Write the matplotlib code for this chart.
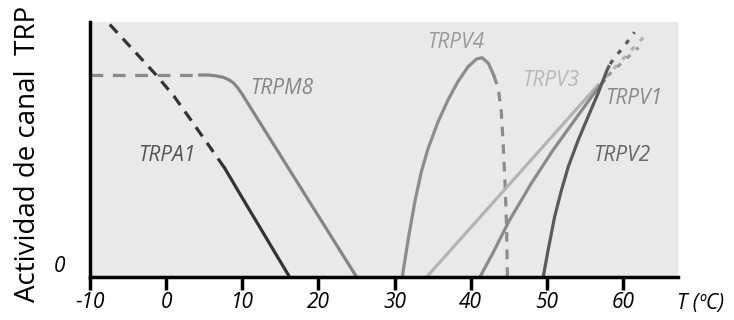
import matplotlib.pyplot as plt
import numpy as np

# temperatura (C) vs actividad relativa
a1_dash_t = [-7.4, -4.0, -1.25, 1.0, 3.1, 5.5, 7.7]
a1_dash_v = [0.99, 0.88, 0.79, 0.71, 0.622, 0.52, 0.426]
a1_t = [7.7, 10.0, 12.0, 14.0, 16.2]
a1_v = [0.426, 0.31, 0.21, 0.11, 0.0]

m8_dash_t = [-10, -5, 0, 4.4]
m8_dash_v = [0.792, 0.792, 0.792, 0.792]
m8_t = [4.4, 5.5, 6.5, 7.5, 8.2, 8.8, 9.4, 10.0, 10.6, 25.0]
m8_v = [0.792, 0.792, 0.789, 0.783, 0.774, 0.762, 0.742, 0.716, 0.687, 0.0]

v4_t = [31.0, 31.8, 32.65, 33.5, 34.4, 35.7, 37.0, 38.3, 39.65, 40.75, 41.5, 42.3, 43.0]
v4_v = [0.0, 0.152, 0.295, 0.413, 0.505, 0.609, 0.694, 0.766, 0.825, 0.855, 0.86, 0.838, 0.792]
v4_dash_t = [43.0, 43.6, 44.0, 44.25, 44.5, 44.7, 44.8]
v4_dash_v = [0.792, 0.74, 0.648, 0.518, 0.36, 0.19, 0.0]

v3_t = [34.2, 56.7]
v3_v = [0.0, 0.753]
v3_dash_t = [57.6, 63.3]
v3_dash_v = [0.78, 0.96]

v1_t = [41.2, 43.0, 45.1, 48.0, 50.8, 53.5, 56.5, 57.5]
v1_v = [0.0, 0.10, 0.224, 0.37, 0.498, 0.61, 0.733, 0.77]
v1_dash_t = [58.0, 62.0]
v1_dash_v = [0.79, 0.90]

v2_t = [49.5, 50.15, 51.0, 51.9, 52.8, 54.1, 55.4, 56.7, 57.8, 58.1]
v2_v = [0.0, 0.106, 0.236, 0.341, 0.433, 0.537, 0.629, 0.72, 0.805, 0.825]
v2_dash_t = [58.3, 58.8, 60.0, 61.5]
v2_dash_v = [0.835, 0.858, 0.90, 0.96]

names = ['TRPA1', 'TRPM8', 'TRPV4', 'TRPV3', 'TRPV1', 'TRPV2']
name_t = [-3.7, 11.0, 34.2, 46.7, 57.6, 56.0]
name_v = [0.478, 0.74, 0.92, 0.77, 0.70, 0.475]
name_c = ['#555555', '#858585', '#9a9a9a', '#b8b8b8', '#8a8a8a', '#666666']

ticks = [-10, 0, 10, 20, 30, 40, 50, 60]

plt.rcParams['font.family'] = ['Open Sans', 'DejaVu Sans']

fig = plt.figure(figsize=(7.34, 3.2), dpi=100)
ax = fig.add_axes([90 / 734, 43 / 320, 588 / 734, 255 / 320])
ax.set_facecolor('#e9e9e9')

lw = 2.3
ax.plot(a1_dash_t, a1_dash_v, color='#333333', lw=lw, dashes=(3.5, 2.5))
ax.plot(a1_t, a1_v, color='#333333', lw=lw)
ax.plot(m8_dash_t, m8_dash_v, color='#8a8a8a', lw=lw, dashes=(4, 3))
ax.plot(m8_t, m8_v, color='#858585', lw=lw)
ax.plot(v4_t, v4_v, color='#8c8c8c', lw=lw)
ax.plot(v4_dash_t, v4_dash_v, color='#8c8c8c', lw=lw, dashes=(3, 2.5))
ax.plot(v3_t, v3_v, color='#b4b4b4', lw=lw)
ax.plot(v3_dash_t, v3_dash_v, color='#b4b4b4', lw=lw, dashes=(1.5, 2.5))
ax.plot(v1_t, v1_v, color='#8a8a8a', lw=lw)
ax.plot(v1_dash_t, v1_dash_v, color='#9a9a9a', lw=lw, dashes=(1.5, 2.5))
ax.plot(v2_t, v2_v, color='#5a5a5a', lw=lw)
ax.plot(v2_dash_t, v2_dash_v, color='#5a5a5a', lw=lw, dashes=(1.5, 2.5))

for n, t, v, c in zip(names, name_t, name_v, name_c):
    ax.text(t, v, n, color=c, fontsize=15, style='italic', va='center', ha='left')

ax.set_xlim(-10, 67.2)
ax.set_ylim(0, 1)
for s in ['top', 'right']:
    ax.spines[s].set_visible(False)
ax.spines['left'].set_linewidth(2.5)
ax.spines['bottom'].set_linewidth(2.5)
ax.set_xticks(ticks)
ax.set_xticklabels([str(t) for t in ticks], fontsize=15, style='italic')
ax.tick_params(axis='x', length=9, width=2.5, pad=2)
ax.set_yticks([0])
ax.set_yticklabels(['0'], fontsize=15, style='italic')
ax.tick_params(axis='y', length=0, pad=18)
for lab in ax.get_yticklabels():
    lab.set_verticalalignment('bottom')

fig.text(677 / 734, 17 / 320, 'T (ºC)', fontsize=15, style='italic', ha='left', va='center')
fig.text(28 / 734, 166 / 320, 'Actividad de canal  TRP', fontsize=20, rotation=90,
         ha='center', va='center')

fig.savefig('out.png', dpi=100)
